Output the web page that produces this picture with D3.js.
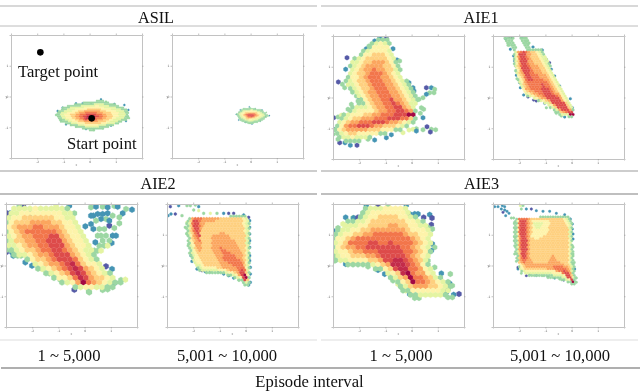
<!DOCTYPE html>
<html><head><meta charset="utf-8">
<script src="https://cdn.jsdelivr.net/npm/d3@7"></script>
<style>html,body{margin:0;background:#fff}svg{display:block;filter:blur(0.5px)}</style>
</head><body><div id="c"></div>
<script>
// Level is the hexbin density class, 0 (sparse, purple) to 10 (dense, dark red).
const groupTitles = ["ASIL", "AIE1", "AIE2", "AIE3"];
const intervalLabels = ["1 ~ 5,000", "5,001 ~ 10,000"];
const axisTitle = "Episode interval";
const xTickValues = [78.6, 157.2, 235.8, 314.4];
const yTickValues = [92.25, 184.5, 276.75];
const xTickLabels = ["-2", "-1", "0", "1"];
const yTickLabels = ["1", "0", "-1"];
const targetPoint = [88, 52];
const startPoint = [242, 250];
const markerLabels = ["Target point", "Start point"];

const asilEarlyBands = [
 [2,[[135,235],[160,215],[200,205],[270,195],[320,210],[350,225],[355,250],[325,265],[280,280],[240,288],[190,275],[150,260]]],
 [3,[[145,235],[175,218],[270,205],[335,225],[345,245],[310,265],[240,280],[180,265],[155,250]]],
 [4,[[160,238],[195,222],[260,212],[320,230],[325,245],[290,265],[235,275],[190,262],[165,250]]],
 [5,[[175,240],[210,225],[260,220],[305,235],[305,250],[270,265],[230,268],[195,258]]],
 [6,[[190,240],[220,228],[260,226],[290,240],[285,252],[255,262],[225,262],[200,253]]],
 [7,[[200,242],[225,232],[255,232],[280,242],[270,252],[245,258],[222,258],[205,250]]],
 [8,[[212,245],[230,237],[250,237],[265,245],[250,253],[225,255]]],
 [9,[[225,245],[240,240],[255,245],[245,252],[228,252]]]
];
const asilEarlyEdge = [[155,218,1],[140,228,1],[135,240,2],[150,255,1],[165,268,1],[195,205,1],[215,205,1],[240,205,2],[270,193,1],[285,200,2],[310,207,1],[340,210,1],[352,225,1],[350,245,1],[345,258,1],[325,258,2],[300,272,1],[275,280,2],[248,285,2],[225,282,1],[195,275,2],[180,270,2]];

const asilLateBands = [
 [2,[[192,238],[210,222],[235,218],[270,225],[290,242],[270,258],[235,268],[205,258]]],
 [3,[[200,238],[215,226],[240,224],[265,230],[280,242],[262,254],[235,262],[210,252]]],
 [4,[[207,238],[220,229],[240,227],[260,232],[272,242],[258,250],[235,257],[215,249]]],
 [5,[[212,240],[225,231],[250,231],[265,242],[250,250],[225,253]]],
 [6,[[216,240],[230,234],[248,234],[258,242],[245,249],[228,250]]],
 [7,[[220,240],[232,235],[248,236],[252,242],[240,248],[228,247]]],
 [8,[[224,240],[245,237],[248,243],[238,247]]]
];
const asilLateEdge = [[232,216,1],[205,225,1],[193,238,1],[200,255,1],[220,262,1],[240,267,1],[265,258,1],[280,245,1],[292,242,1],[283,232,2],[250,222,1],[270,225,1]];

const aie1EarlyBands = [
 [2,[[145,5],[165,10],[180,45],[195,75],[210,120],[235,150],[255,190],[250,225],[255,245],[240,262],[200,285],[150,295],[100,310],[60,322],[25,312],[5,290],[8,255],[40,230],[60,205],[85,198],[60,175],[35,150],[45,110],[50,75],[95,40],[125,15]]],
 [3,[[145,12],[160,20],[175,50],[190,85],[205,125],[228,155],[248,195],[245,225],[250,243],[235,258],[195,280],[148,290],[100,304],[58,314],[30,305],[12,285],[14,260],[45,236],[65,212],[95,205],[70,172],[42,148],[50,110],[58,78],[100,46],[128,22]]],
 [4,[[145,20],[165,35],[180,80],[195,120],[215,160],[240,220],[248,240],[235,255],[190,278],[110,298],[50,305],[20,285],[15,265],[45,245],[75,225],[110,222],[95,190],[65,150],[55,110],[80,65],[120,35]]],
 [5,[[145,45],[165,70],[180,110],[205,170],[240,225],[245,245],[190,268],[110,290],[50,295],[22,275],[45,255],[80,240],[125,225],[105,195],[75,140],[70,105],[100,65]]],
 [6,[[120,70],[150,75],[165,115],[195,180],[235,225],[243,245],[185,262],[100,283],[45,287],[32,270],[55,258],[100,245],[140,225],[110,170],[90,125],[95,95]]],
 [7,[[115,95],[140,105],[160,150],[190,195],[230,230],[243,245],[170,258],[95,278],[45,280],[40,268],[80,258],[135,245],[160,225],[130,170],[110,125]]],
 [8,[[165,180],[190,205],[225,232],[240,245],[200,248],[165,258],[100,272],[65,270],[100,265],[150,250],[190,235],[170,205]]],
 [10,[[215,235],[242,235],[242,247],[218,245]]]
];
const aie1EarlyEdge = [[42,65,0],[38,100,1],[16,138,0],[28,145,2],[35,155,2],[125,15,1],[140,5,1],[160,8,0],[180,38,1],[192,72,1],[200,75,2],[228,140,1],[240,155,1],[243,165,1],[280,155,0],[295,155,1],[305,160,2],[303,170,2],[290,170,2],[280,175,1],[270,185,2],[258,190,2],[235,180,0],[265,215,2],[272,220,2],[262,232,2],[270,245,1],[282,272,0],[295,280,2],[308,281,2],[270,281,2],[250,278,2],[240,280,3],[250,285,1],[292,288,0],[228,282,3],[210,290,3],[175,296,1],[160,305,1],[125,312,1],[105,310,2],[72,328,0],[52,328,1],[36,320,1],[20,320,0],[15,310,2],[0,295,2],[2,280,1],[2,245,0],[15,243,2],[25,238,3],[60,165,2],[70,180,2],[80,190,1],[75,195,2],[55,205,2],[45,220,2],[100,38,1],[108,30,2]];

const aie1LateBands = [
 [2,[[62,42],[100,42],[130,35],[145,42],[165,70],[185,120],[205,155],[240,215],[245,240],[235,245],[210,240],[185,230],[160,205],[130,192],[95,178],[80,150],[65,100],[62,60]]],
 [2,[[35,5],[60,5],[70,42],[62,42],[45,25]]],
 [2,[[80,3],[100,3],[115,35],[98,40]]],
 [3,[[66,45],[142,42],[163,72],[183,122],[203,157],[238,215],[244,240],[207,236],[162,204],[128,190],[95,175],[82,148],[67,100]]],
 [4,[[70,48],[135,46],[155,75],[178,125],[198,160],[235,215],[242,238],[205,232],[165,200],[130,187],[98,172],[85,145],[70,100]]],
 [5,[[72,48],[125,48],[145,80],[170,125],[195,165],[232,218],[242,238],[205,230],[165,198],[130,184],[98,168],[88,135],[74,95]]],
 [6,[[74,48],[110,48],[120,75],[145,105],[170,130],[190,165],[228,215],[242,238],[205,228],[165,195],[125,178],[100,160],[92,125],[78,90]]],
 [7,[[76,48],[102,46],[108,85],[130,115],[165,140],[185,170],[225,215],[242,238],[205,225],[165,188],[125,170],[103,150],[90,110],[80,80]]],
 [8,[[78,50],[100,46],[100,75],[112,115],[120,140],[100,130],[88,100]]],
 [8,[[145,140],[175,170],[215,200],[242,235],[205,222],[165,190],[145,165]]],
 [10,[[225,228],[242,232],[240,240],[222,234]]]
];
const aie1LateEdge = [[38,8,1],[50,5,0],[58,5,0],[45,28,2],[52,40,1],[62,60,1],[65,75,1],[68,90,1],[70,105,1],[70,118,1],[72,128,2],[80,140,1],[82,155,1],[92,177,1],[105,183,0],[122,192,0],[130,195,0],[140,192,1],[155,202,1],[160,215,2],[190,232,2],[205,240,2],[215,243,1],[232,188,1],[238,215,1],[200,150,1],[185,120,1],[175,100,1],[170,80,0],[160,70,1],[148,42,1],[120,33,1],[95,3,2],[85,5,1],[100,15,2],[105,25,2]];

const aie2EarlyBands = [
 [2,[[0,30],[15,10],[60,3],[180,5],[205,30],[225,60],[245,100],[262,140],[285,185],[310,205],[330,222],[365,226],[345,238],[310,255],[270,262],[245,265],[225,255],[175,245],[125,215],[75,180],[40,160],[0,145]]],
 [3,[[2,35],[25,12],[80,5],[170,8],[205,38],[225,70],[245,110],[265,160],[310,212],[335,228],[300,248],[260,258],[225,252],[175,240],[130,210],[80,175],[35,150],[2,130]]],
 [4,[[5,50],[30,30],[80,12],[165,25],[195,55],[225,110],[250,160],[280,195],[310,225],[295,240],[250,252],[220,248],[170,230],[125,200],[75,165],[30,130],[5,90]]],
 [5,[[18,65],[40,45],[85,35],[140,40],[175,65],[200,110],[235,170],[270,205],[300,228],[255,248],[225,246],[185,225],[130,195],[75,155],[30,110]]],
 [6,[[35,70],[80,50],[135,55],[170,80],[190,120],[225,175],[260,215],[285,230],[250,245],[225,243],[190,220],[140,185],[85,140],[50,105]]],
 [7,[[45,75],[85,68],[130,70],[165,95],[180,130],[215,175],[250,225],[265,235],[245,245],[225,240],[190,210],[150,175],[100,130],[75,95]]],
 [8,[[122,95],[150,90],[170,115],[175,140],[205,175],[230,190],[250,230],[240,240],[225,235],[195,205],[160,170],[135,135]]],
 [9,[[195,180],[215,180],[235,215],[245,235],[235,240],[215,225],[195,200]]],
 [10,[[225,228],[240,225],[248,238],[235,250],[225,240]]]
];
const aie2EarlyEdge = [[255,10,2],[270,8,1],[290,8,2],[305,10,1],[325,6,2],[335,8,1],[360,15,2],[378,17,1],[350,28,1],[340,40,2],[262,35,1],[255,35,1],[275,30,1],[290,30,1],[305,28,1],[320,35,2],[300,45,2],[285,45,1],[270,50,2],[255,60,1],[238,67,1],[280,75,2],[262,75,1],[310,65,0],[325,72,2],[295,75,2],[320,95,1],[330,95,1],[317,117,1],[300,95,2],[290,110,2],[280,125,2],[268,115,1],[265,140,2],[275,140,2],[295,125,2],[285,140,3],[300,187,0],[318,195,1],[310,208,2],[300,210,3],[205,257,0],[250,265,2],[290,258,2],[305,256,2],[325,237,1],[345,228,2],[358,227,3],[205,28,2],[190,5,1],[150,5,3],[75,28,1],[52,8,0],[40,5,2],[12,28,1],[3,28,0],[0,60,2],[0,85,2],[2,125,2],[0,145,0],[18,145,1],[22,155,1],[35,155,2],[45,155,2],[58,175,1],[78,185,1],[108,195,3],[130,208,2],[145,215,2],[163,227,2],[310,50,1],[340,58,2],[275,95,2],[285,95,2],[255,150,3],[310,110,2],[305,125,3]];

const aie2LateBands = [
 [2,[[62,42],[100,38],[240,36],[250,60],[248,180],[250,240],[240,248],[215,228],[175,212],[105,205],[85,190],[70,165],[60,110],[58,60]]],
 [3,[[65,45],[240,38],[245,60],[243,180],[245,240],[215,222],[170,205],[105,200],[80,175],[70,120]]],
 [4,[[68,45],[235,40],[240,180],[245,238],[215,218],[165,200],[110,192],[85,170],[72,110]]],
 [5,[[70,42],[225,42],[235,100],[235,180],[245,235],[215,210],[165,195],[115,185],[92,160],[80,120],[72,90]]],
 [6,[[72,42],[165,42],[140,55],[110,60],[100,90],[105,150],[88,130],[78,95]]],
 [6,[[135,95],[170,85],[205,110],[228,150],[232,185],[243,235],[205,205],[165,190],[150,170],[135,140]]],
 [7,[[74,45],[108,42],[100,60],[100,110],[92,115],[80,80]]],
 [7,[[160,130],[200,150],[225,175],[235,195],[243,235],[210,195],[170,170]]],
 [8,[[78,50],[95,48],[95,70],[100,100],[88,90],[80,70]]],
 [8,[[215,190],[235,200],[243,238],[225,220]]],
 [10,[[228,210],[240,215],[243,238],[235,228]]]
];
const aie2LateEdge = [[3,35,1],[12,30,1],[25,30,0],[10,8,0],[35,5,1],[60,5,2],[70,5,2],[85,3,2],[95,8,1],[80,18,2],[95,20,3],[45,35,2],[110,28,2],[130,28,3],[150,28,2],[170,28,1],[185,28,0],[200,28,0],[230,33,1],[245,40,0],[248,50,1],[248,70,1],[248,90,1],[248,110,1],[248,130,1],[248,155,1],[248,170,1],[250,190,1],[250,210,1],[250,235,1],[245,243,1],[215,228,2],[200,222,1],[185,215,1],[170,210,1],[155,203,1],[130,203,1],[115,203,1],[105,200,0],[90,195,1],[75,172,1],[72,155,1],[65,120,2],[60,90,2],[55,70,2],[60,55,3]];

const aie3EarlyBands = [
 [2,[[100,3],[220,3],[240,28],[280,55],[300,95],[298,140],[285,185],[320,215],[355,240],[360,265],[340,285],[270,285],[245,285],[215,265],[180,230],[140,200],[100,188],[40,185],[0,172],[0,85],[35,55],[75,42]]],
 [3,[[105,5],[215,5],[235,35],[275,60],[295,95],[292,140],[280,180],[320,222],[350,245],[345,270],[320,275],[255,275],[225,258],[185,225],[145,195],[100,180],[40,178],[5,165],[5,95],[40,62],[85,45]]],
 [4,[[115,15],[205,10],[225,40],[265,70],[285,100],[280,150],[270,185],[310,225],[335,250],[310,268],[255,270],[230,255],[190,220],[150,190],[100,172],[40,170],[15,150],[15,100],[50,75],[95,55]]],
 [5,[[130,40],[190,30],[210,50],[250,90],[270,115],[265,185],[300,230],[320,248],[260,262],[235,250],[195,215],[155,185],[100,165],[50,155],[25,130],[40,100],[85,80]]],
 [6,[[130,70],[195,60],[225,85],[255,115],[255,180],[280,220],[300,238],[265,255],[240,248],[200,210],[160,180],[100,158],[60,145],[35,120],[55,100],[100,90]]],
 [7,[[60,105],[120,90],[210,90],[235,110],[240,160],[255,210],[275,235],[258,248],[240,245],[205,205],[165,175],[110,150],[75,135],[45,120]]],
 [8,[[100,120],[115,112],[145,120],[170,115],[205,120],[215,145],[225,180],[245,225],[250,240],[238,242],[215,210],[175,190],[150,165],[140,140],[105,135]]],
 [9,[[175,165],[205,165],[225,185],[248,225],[245,240],[230,240],[205,200],[180,185]]],
 [10,[[210,195],[225,205],[243,230],[240,243],[230,240],[215,215]]]
];
const aie3EarlyEdge = [[38,40,1],[60,42,2],[62,42,1],[75,40,0],[90,28,2],[100,3,1],[135,3,0],[165,3,2],[220,3,1],[230,30,1],[245,30,1],[255,30,1],[272,40,0],[290,32,1],[297,42,0],[295,62,0],[285,70,2],[298,75,2],[298,120,1],[305,130,2],[295,140,1],[285,145,2],[285,170,2],[305,190,2],[285,200,3],[325,208,1],[352,210,2],[350,238,1],[358,245,2],[340,265,1],[345,255,1],[378,270,0],[362,272,1],[345,280,2],[358,280,2],[258,282,2],[245,282,2],[230,270,1],[218,260,3],[205,250,2],[195,240,3],[180,230,2],[155,210,1],[135,198,1],[105,188,2],[60,180,2],[38,180,1],[5,170,2],[5,150,2],[0,80,1],[15,72,2],[30,60,3]];

const aie3LateBands = [
 [2,[[68,42],[225,35],[240,50],[240,120],[245,190],[250,240],[240,245],[215,230],[185,222],[110,218],[85,205],[70,170],[62,100],[60,60]]],
 [3,[[72,42],[222,40],[235,60],[235,170],[243,238],[210,222],[170,212],[100,212],[80,195],[72,130]]],
 [4,[[72,42],[215,42],[228,60],[230,170],[243,238],[210,215],[165,205],[100,205],[78,185],[75,110]]],
 [5,[[75,42],[205,42],[225,70],[228,175],[243,235],[210,205],[165,198],[100,198],[78,175]]],
 [6,[[75,42],[115,42],[110,60],[110,150],[115,175],[165,180],[180,150],[195,170],[225,190],[243,232],[205,205],[165,195],[100,192],[80,170]]],
 [4,[[120,50],[170,50],[165,85],[135,110],[115,100]]],
 [3,[[120,55],[150,55],[150,70],[125,75]]],
 [7,[[75,45],[105,42],[105,90],[105,170],[95,180],[85,165],[80,100]]],
 [7,[[175,185],[205,185],[225,200],[243,232],[215,215],[190,200]]],
 [8,[[80,48],[100,45],[100,90],[105,135],[95,165],[85,150],[82,90]]],
 [8,[[205,195],[225,205],[243,235],[225,222]]],
 [10,[[230,225],[243,230],[243,240]]]
];
const aie3LateEdge = [[5,8,1],[15,8,1],[28,5,1],[35,8,1],[25,15,1],[35,18,1],[30,25,0],[42,22,1],[38,35,1],[48,28,1],[55,42,2],[62,42,2],[82,5,3],[90,5,2],[85,15,2],[100,15,1],[115,15,0],[130,20,1],[150,22,1],[170,22,1],[190,28,1],[215,32,1],[232,45,1],[238,60,1],[238,75,1],[240,90,1],[240,105,1],[238,125,2],[240,150,2],[240,180,2],[245,195,1],[250,222,2],[250,235,2],[212,228,0],[200,225,2],[185,222,1],[165,218,1],[150,215,2],[130,214,1],[110,212,1],[100,215,0],[85,208,2],[75,195,1],[70,172,2],[65,150,2],[65,125,2],[66,100,2],[68,75,2],[65,55,2],[75,190,0]];

// ---- drawing ----
const W = 640, H = 392, fw = 131, fh = 123;
const svg = d3.select("#c").append("svg").attr("width", W).attr("height", H).attr("viewBox", `0 0 ${W} ${H}`);
const serif = "'Liberation Serif','Times New Roman',serif";

const x = d3.scaleLinear().domain([0, 393]).range([0, fw]);
const y = d3.scaleLinear().domain([0, 369]).range([0, fh]);
const colorOf = d3.scaleLinear().domain([0,1,2,3,4,5,6,7,8,9,10]).range([0.98,0.88,0.72,0.59,0.47,0.37,0.29,0.21,0.13,0.07,0.01]);
const fill = lvl => d3.interpolateSpectral(colorOf(lvl));

const panels = [
 {ox: 11,  oy: 35,  hex: 6,  bands: asilEarlyBands, edge: asilEarlyEdge},
 {ox: 172, oy: 35,  hex: 3.6,bands: asilLateBands,  edge: asilLateEdge},
 {ox: 333, oy: 36,  hex: 13, bands: aie1EarlyBands, edge: aie1EarlyEdge},
 {ox: 493, oy: 36,  hex: 8,  bands: aie1LateBands,  edge: aie1LateEdge},
 {ox: 6,   oy: 204, hex: 16, bands: aie2EarlyBands, edge: aie2EarlyEdge},
 {ox: 167, oy: 204, hex: 8.5,bands: aie2LateBands,  edge: aie2LateEdge},
 {ox: 333, oy: 204, hex: 15, bands: aie3EarlyBands, edge: aie3EarlyEdge},
 {ox: 493, oy: 204, hex: 7.5,bands: aie3LateBands,  edge: aie3LateEdge}
];

const hexPath = (cx, cy, w) => {
  const r = w / Math.sqrt(3), p = d3.path();
  d3.range(6).forEach(k => {
    const a = Math.PI / 3 * k + Math.PI / 6;
    const hx = x(cx + r * Math.cos(a)), hy = y(cy + r * Math.sin(a));
    k ? p.lineTo(hx, hy) : p.moveTo(hx, hy);
  });
  p.closePath();
  return p.toString();
};

panels.forEach((pn, idx) => {
  const g = svg.append("g").attr("transform", `translate(${pn.ox},${pn.oy})`);
  svg.append("clipPath").attr("id", "clip" + idx).append("rect").attr("width", fw).attr("height", fh);
  const plot = g.append("g").attr("clip-path", `url(#clip${idx})`);
  const rowStep = pn.hex / Math.sqrt(3) * 1.5;
  const cells = [];
  d3.range(0, Math.ceil(369 / rowStep) + 1).forEach(j => {
    d3.range(0, Math.ceil(393 / pn.hex) + 1).forEach(i => {
      const cx = i * pn.hex + (j % 2 ? pn.hex / 2 : 0), cy = j * rowStep;
      let lvl = null;
      pn.bands.forEach(([l, poly]) => { if (d3.polygonContains(poly, [cx, cy])) lvl = l; });
      if (lvl !== null) cells.push({cx, cy, lvl});
    });
  });
  const edgeCells = pn.edge.map(([cx, cy, lvl]) => ({cx, cy, lvl}));
  plot.selectAll("path").data(edgeCells.concat(cells)).join("path")
    .attr("d", d => hexPath(d.cx, d.cy, pn.hex))
    .attr("fill", d => fill(d.lvl))
    .attr("stroke", d => fill(d.lvl)).attr("stroke-width", 0.25);

  // frame with small ticks on all four sides
  const grey = "#c2c2c2";
  const axes = [
    [d3.axisBottom(x).tickValues(xTickValues).tickFormat((d, i) => xTickLabels[i]), `translate(0,${fh})`],
    [d3.axisTop(x).tickValues(xTickValues).tickFormat(""), ""],
    [d3.axisLeft(y).tickValues(yTickValues).tickFormat((d, i) => yTickLabels[i]), ""],
    [d3.axisRight(y).tickValues(yTickValues).tickFormat(""), `translate(${fw},0)`]
  ];
  axes.forEach(([ax, tr]) => {
    const a = g.append("g").attr("transform", tr).call(ax.tickSize(1.5).tickPadding(1));
    a.select(".domain").attr("stroke", grey).attr("stroke-width", 1);
    a.selectAll(".tick line").attr("stroke", "#999").attr("stroke-width", 0.6);
    a.selectAll(".tick text").attr("fill", "#666").attr("font-size", 3).attr("font-family", "'DejaVu Sans',sans-serif");
  });
  g.append("text").attr("x", fw / 2).attr("y", fh + 8).attr("text-anchor", "middle")
    .attr("font-size", 3).attr("fill", "#666").attr("font-family", "'DejaVu Sans',sans-serif").text("x");
  g.append("text").attr("x", -4.5).attr("y", fh / 2 + 1).attr("text-anchor", "middle")
    .attr("font-size", 3).attr("fill", "#666").attr("font-family", "'DejaVu Sans',sans-serif").text("y");

  if (idx === 0) {
    [targetPoint, startPoint].forEach(p => {
      plot.append("circle").attr("cx", x(p[0])).attr("cy", y(p[1])).attr("r", 3.3).attr("fill", "#000");
    });
  }
});

// rules
const rule = (x1, x2, yy, col, sw) => svg.append("line").attr("x1", x1).attr("x2", x2).attr("y1", yy).attr("y2", yy).attr("stroke", col).attr("stroke-width", sw);
[[0,317],[321,638]].forEach(([a,b]) => {
  rule(a,b,6,"#a8a8a8",0.9); rule(a,b,26,"#b4b4b4",0.9);
  rule(a,b,171,"#909090",0.9); rule(a,b,194,"#808080",1.1);
  rule(a,b,340,"#d4d4d4",0.8);
});
rule(1,640,368,"#606060",1.1);

// texts
const label = (tx, ty, s, anchor, size) => svg.append("text").attr("x", tx).attr("y", ty).attr("text-anchor", anchor || "middle")
  .attr("font-family", serif).attr("font-size", size || 16.6).attr("fill", "#111").text(s);
[[156,22.5],[481,22.5],[158,189],[481.5,189]].forEach(([tx,ty],i) => label(tx, ty, groupTitles[i], "middle", 16.2));
[[69,361],[227,361],[401,361],[560,361]].forEach(([tx,ty],i) => label(tx, ty, intervalLabels[i % 2]));
label(309.5, 387, axisTitle);
label(18, 77, markerLabels[0], "start");
label(67, 149, markerLabels[1], "start");
</script></body></html>
